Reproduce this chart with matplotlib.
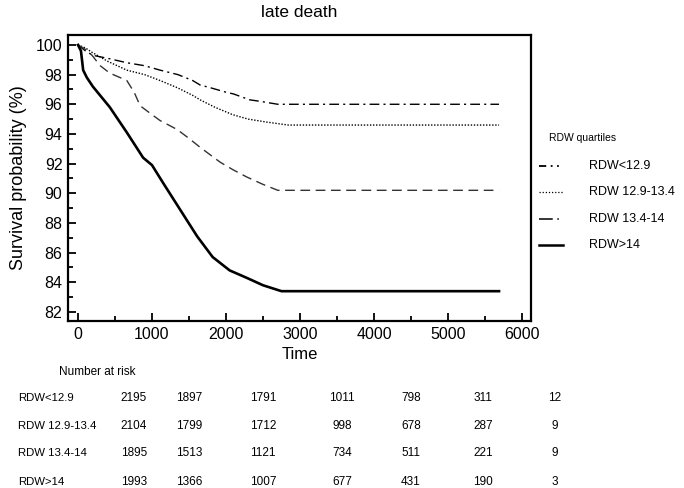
import matplotlib
matplotlib.use("Agg")
import matplotlib.pyplot as plt
from matplotlib.lines import Line2D
from matplotlib.ticker import MultipleLocator

plt.rcParams["font.family"] = ["Liberation Sans", "DejaVu Sans"]

# survival curves (time, survival %)
groups = ["RDW<12.9", "RDW 12.9-13.4", "RDW 13.4-14", "RDW>14"]

t_q1 = [0, 100, 200, 400, 660, 900, 1110, 1350, 1550, 1650, 1800, 2010, 2100, 2320, 2460, 2700, 5690]
s_q1 = [100, 99.6, 99.3, 99.1, 98.8, 98.6, 98.3, 98.0, 97.6, 97.3, 97.1, 96.8, 96.7, 96.3, 96.2, 96.0, 96.0]

t_q2 = [0, 100, 190, 400, 660, 900, 1110, 1350, 1550, 1650, 1850, 2090, 2300, 2550, 2840, 5690]
s_q2 = [100, 99.8, 99.5, 98.9, 98.3, 98.0, 97.6, 97.1, 96.6, 96.3, 95.8, 95.3, 95.0, 94.8, 94.6, 94.6]

t_q3 = [0, 100, 190, 300, 430, 660, 760, 840, 1000, 1110, 1340, 1500, 1650, 1920, 2090, 2280, 2500, 2700, 5690]
s_q3 = [100, 99.7, 99.3, 98.6, 98.1, 97.6, 96.8, 95.9, 95.3, 94.9, 94.3, 93.7, 93.1, 92.1, 91.6, 91.1, 90.6, 90.2, 90.2]

t_q4 = [0, 40, 70, 120, 200, 430, 660, 880, 1000, 1150, 1380, 1610, 1820, 2050, 2280, 2500, 2750, 5690]
s_q4 = [100, 99.6, 98.3, 97.8, 97.2, 95.8, 94.1, 92.4, 91.9, 90.7, 88.9, 87.1, 85.7, 84.8, 84.3, 83.8, 83.4, 83.4]

# number at risk table
risk_q1 = [2195, 1897, 1791, 1011, 798, 311, 12]
risk_q2 = [2104, 1799, 1712, 998, 678, 287, 9]
risk_q3 = [1895, 1513, 1121, 734, 511, 221, 9]
risk_q4 = [1993, 1366, 1007, 677, 431, 190, 3]

W, H = 684, 488
fig = plt.figure(figsize=(W / 100, H / 100), dpi=100)
ax = fig.add_axes([68 / W, 1 - 321 / H, (531 - 68) / W, (321 - 35) / H])

styles = [
    dict(color="black", lw=1.0, linestyle=(0, (7, 3, 1.5, 3))),
    dict(color="black", lw=1.0, linestyle=(0, (1, 1.2))),
    dict(color="#333333", lw=1.0, linestyle=(0, (7, 4))),
    dict(color="black", lw=1.9, linestyle="-"),
]
curves = [(t_q1, s_q1), (t_q2, s_q2), (t_q3, s_q3), (t_q4, s_q4)]
for (t, s), st in zip(curves, styles):
    ax.plot(t, s, **st)

ax.set_xlim(-135, 6122)
ax.set_ylim(81.39, 100.67)
ax.xaxis.set_major_locator(MultipleLocator(1000))
ax.xaxis.set_minor_locator(MultipleLocator(500))
ax.yaxis.set_major_locator(MultipleLocator(2))
ax.yaxis.set_minor_locator(MultipleLocator(1))
ax.tick_params(which="both", direction="in", width=1.3, labelsize=11.5, pad=4)
ax.tick_params(which="major", length=6)
ax.tick_params(which="minor", length=3.5)
for sp in ax.spines.values():
    sp.set_linewidth(1.6)

ax.set_title("late death", fontsize=12.5, pad=13)
ax.set_xlabel("Time", fontsize=12, labelpad=4)
ax.set_ylabel("Survival probability (%)", fontsize=13, labelpad=6)

# legend drawn by hand to match the sample glyphs
leg_styles = [
    dict(lw=1.3, linestyle=(0, (4, 2.5, 1, 2.5, 1, 2.5))),
    dict(lw=0.9, linestyle=(0, (1, 1.5))),
    dict(lw=1.1, linestyle=(0, (9, 3, 1, 3))),
    dict(lw=1.8, linestyle="-"),
]
fig.text(549 / W, 1 - 138 / H, "RDW quartiles", fontsize=7.5, va="center", ha="left")
for i, (name, st) in enumerate(zip(groups, leg_styles)):
    y = 1 - (166 + 26.3 * i) / H
    fig.add_artist(Line2D([539 / W, 563 / W], [y, y], color="black",
                          transform=fig.transFigure, **st))
    fig.text(589 / W, y, name, fontsize=9, va="center", ha="left")

# number at risk
fig.text(59 / W, 1 - 372 / H, "Number at risk", fontsize=8.5, va="center", ha="left")
col_x = [134, 189, 263, 342, 411, 483, 555]
row_y = [398, 426, 453, 482]
for name, risk, y in zip(groups, [risk_q1, risk_q2, risk_q3, risk_q4], row_y):
    fig.text(18 / W, 1 - y / H, name, fontsize=8.2, va="center", ha="left")
    for x, n in zip(col_x, risk):
        fig.text(x / W, 1 - y / H, str(n), fontsize=8.5, va="center", ha="center")

fig.savefig("out.png", dpi=100)
